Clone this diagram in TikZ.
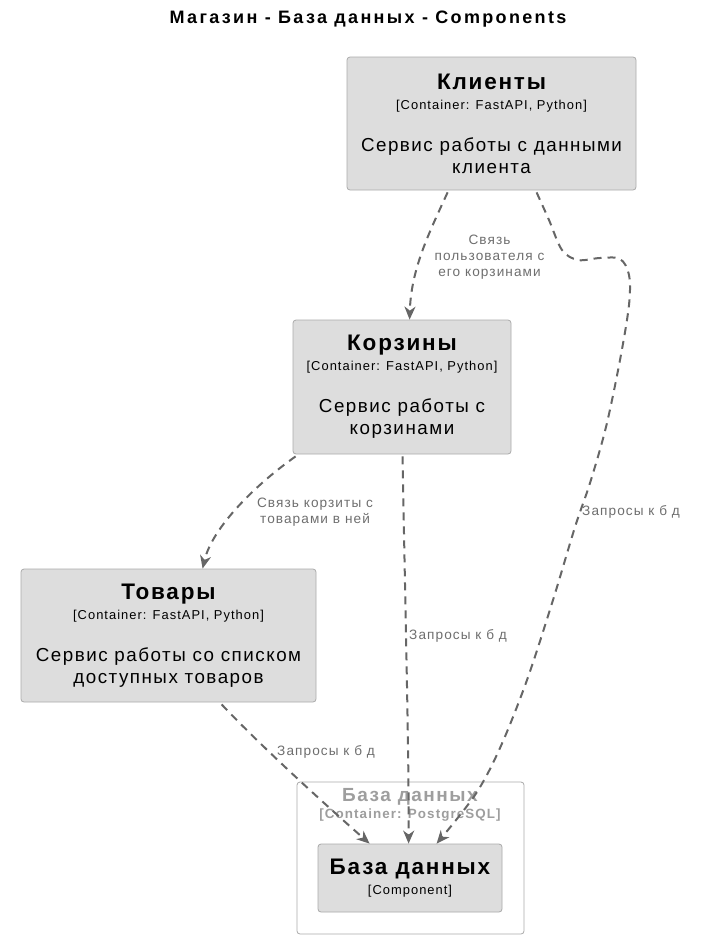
\documentclass[tikz,border=0pt]{standalone}
\usepackage{fontspec}
\setmainfont{Liberation Sans}[LetterSpace=8]
\newfontfamily\titlefont{Liberation Sans}[LetterSpace=13]
\usetikzlibrary{arrows.meta,calc}
\definecolor{boxfill}{HTML}{DDDDDD}
\definecolor{boxline}{HTML}{AAAAAA}
\definecolor{edgecol}{HTML}{666666}
\definecolor{lblcol}{HTML}{6E6E6E}
\definecolor{bndcol}{HTML}{9E9E9E}
\newcommand{\nm}[1]{{\fontsize{22.5}{22}\bfseries\selectfont #1}}
\newcommand{\tc}[1]{{\fontsize{12.9}{22}\selectfont #1}}
\tikzset{
  compbox/.style={draw=boxline, fill=boxfill, rounded corners=3pt, line width=0.8pt,
    align=center, inner sep=2pt, font=\fontsize{18.8}{22}\selectfont},
  bndbox/.style={draw=boxline, fill=white, rounded corners=3pt, line width=0.8pt},
  rel/.style={draw=edgecol, line width=2pt, dash pattern=on 8pt off 6pt,
    -{Stealth[length=13pt,width=11pt,inset=4pt]}},
  rellbl/.style={text=lblcol, font=\fontsize{13.6}{16}\selectfont, align=center, inner sep=0pt},
}
\begin{document}
\begin{tikzpicture}[x=1pt,y=-1pt]
\useasboundingbox (0,0) rectangle (712,937);
\node[font=\titlefont\fontsize{18}{20}\bfseries\selectfont, inner sep=0pt] (title) at (368,19) {Магазин - База данных - Components};

\node[compbox, minimum width=289pt, minimum height=133pt] (kl) at (491.5,123.5)
  {\nm{Клиенты}\\[-2pt]\tc{[Container: FastAPI, Python]}\\[20pt]Сервис работы с данными\\клиента};
\node[compbox, minimum width=218pt, minimum height=134pt] (ko) at (402,387)
  {\nm{Корзины}\\[-2pt]\tc{[Container: FastAPI, Python]}\\[20pt]Сервис работы с\\корзинами};
\node[compbox, minimum width=295pt, minimum height=133pt] (tv) at (168.5,635.5)
  {\nm{Товары}\\[-2pt]\tc{[Container: FastAPI, Python]}\\[20pt]Сервис работы со списком\\доступных товаров};

\node[bndbox, minimum width=227pt, minimum height=152pt] (bnd) at (410.5,858) {};
\node[text=bndcol, font=\fontsize{19}{20}\bfseries\selectfont, inner sep=0pt] (bndname) at (410,797) {База данных};
\node[text=bndcol, font=\fontsize{13.4}{16}\bfseries\selectfont, inner sep=0pt] (bndtech) at (410,815) {[Container: PostgreSQL]};
\node[compbox, minimum width=184pt, minimum height=68pt] (db) at (410,878)
  {\nm{База данных}\\[-2pt]\tc{[Component]}};

% Clients -> Carts
\draw[rel] ($(kl.south west)+(101,2)$) .. controls (428,235) and (411,270) .. ($(ko.north west)+(117,0)$);
\node[rellbl] (l1) at (489.5,257) {Связь\\пользователя с\\его корзинами};

% Clients -> DB
\coordinate (e2s) at ($(kl.south west)+(190,2)$);
\coordinate (e2e) at ($(db.north west)+(119,0)$);
\draw[rel] plot[smooth, tension=0.55] coordinates {(e2s) (549,220) (562,250) (578,260) (600,258) (620,259) (629,275) (629,305) (620,360) (606,427) (590,483) (575,527) (553,600) (527,680) (500,748) (475,795) (e2e)};
\node[rellbl, anchor=west] (l2) at (582,512) {Запросы к б д};

% Carts -> Goods
\draw[rel] ($(ko.south west)+(3,2)$) .. controls (255,485) and (212,528) .. ($(tv.north west)+(182,0)$);
\node[rellbl] (l3) at (315,512) {Связь корзиты с\\товарами в ней};

% Carts -> DB
\draw[rel] ($(ko.south west)+(110,2)$) .. controls (405,600) and (409,750) .. ($(db.north west)+(91,0)$);
\node[rellbl, anchor=west] (l4) at (409,636) {Запросы к б д};

% Goods -> DB
\draw[rel] ($(tv.south west)+(201,2)$) .. controls (260,745) and (320,800) .. ($(db.north west)+(52,0)$);
\node[rellbl, anchor=west] (l5) at (277,752) {Запросы к б д};
\end{tikzpicture}
\end{document}
